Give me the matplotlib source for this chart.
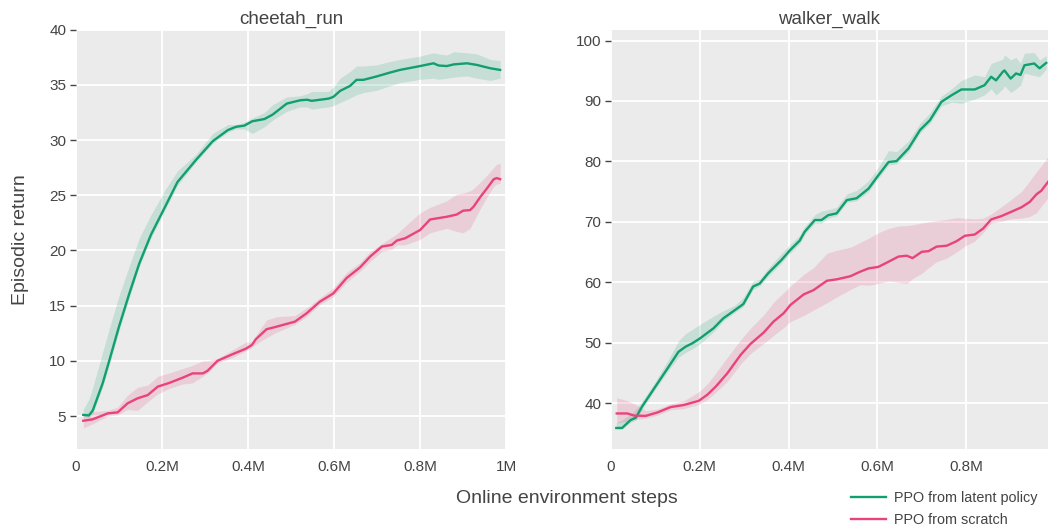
import numpy as np
import matplotlib
matplotlib.use("Agg")
import matplotlib.pyplot as plt
from matplotlib.ticker import FuncFormatter

plt.rcParams["font.family"] = ["Liberation Sans", "DejaVu Sans"]

green = "#119e71"
pink = "#e8437a"
text_col = "#444444"

# ---- cheetah_run ----
ch_lat_x = [0.017, 0.03, 0.039, 0.062, 0.078, 0.10, 0.124, 0.147, 0.174, 0.209, 0.236, 0.279, 0.318,
            0.353, 0.372, 0.391, 0.41, 0.438, 0.457, 0.49, 0.521, 0.537, 0.548, 0.587, 0.598, 0.614,
            0.637, 0.652, 0.668, 0.698, 0.729, 0.753, 0.8, 0.831, 0.843, 0.862, 0.878, 0.909, 0.932,
            0.963, 0.986]
ch_lat_y = [5.1, 5.05, 5.5, 7.96, 10.1, 13.1, 16.1, 18.8, 21.4, 24.1, 26.2, 28.2, 29.9,
            30.9, 31.2, 31.3, 31.7, 31.9, 32.3, 33.3, 33.6, 33.65, 33.55, 33.75, 33.9, 34.45,
            34.9, 35.45, 35.45, 35.75, 36.1, 36.35, 36.7, 36.95, 36.75, 36.7, 36.85, 36.95, 36.8,
            36.5, 36.35]
ch_lat_lo = [4.9, 4.9, 5.2, 7.6, 9.7, 12.7, 15.7, 18.5, 21.1, 23.8, 25.9, 28.0, 29.7,
             30.7, 31.0, 31.0, 30.6, 31.2, 31.8, 32.6, 33.0, 33.0, 32.8, 33.0, 33.1, 33.4,
             33.8, 34.1, 34.3, 34.5, 34.9, 35.2, 35.5, 35.6, 35.5, 35.6, 35.7, 35.8, 35.6,
             35.4, 35.6]
ch_lat_hi = [5.6, 6.5, 7.6, 10.8, 13.0, 15.9, 18.6, 21.1, 23.2, 25.6, 27.2, 28.7, 30.6,
             31.4, 31.4, 31.6, 32.0, 32.5, 33.2, 33.9, 34.0, 34.2, 34.4, 34.4, 34.8, 35.6,
             36.2, 36.7, 36.7, 36.8, 37.1, 37.3, 37.6, 37.9, 37.8, 37.7, 38.0, 37.9, 37.8,
             37.3, 37.2]

ch_scr_x = [0.017, 0.039, 0.074, 0.097, 0.12, 0.143, 0.167, 0.19, 0.217, 0.248, 0.271, 0.295, 0.306,
            0.329, 0.364, 0.395, 0.409, 0.418, 0.443, 0.467, 0.509, 0.536, 0.567, 0.598, 0.629,
            0.66, 0.684, 0.711, 0.734, 0.746, 0.765, 0.8, 0.823, 0.862, 0.885, 0.9, 0.916, 0.924,
            0.94, 0.955, 0.971, 0.978, 0.986]
ch_scr_y = [4.57, 4.7, 5.24, 5.33, 6.15, 6.6, 6.9, 7.66, 8.0, 8.47, 8.86, 8.86, 9.1,
            10.0, 10.6, 11.1, 11.44, 11.95, 12.86, 13.1, 13.55, 14.3, 15.36, 16.1, 17.5,
            18.45, 19.45, 20.35, 20.5, 20.9, 21.1, 21.85, 22.8, 23.05, 23.25, 23.6, 23.65, 23.95,
            24.85, 25.6, 26.45, 26.55, 26.45]
ch_scr_lo = [3.9, 4.3, 5.0, 5.1, 5.6, 5.5, 6.3, 7.0, 7.5, 7.9, 8.0, 8.6, 8.9,
             9.8, 10.3, 10.9, 11.2, 11.5, 12.1, 12.6, 13.3, 14.0, 15.1, 15.8, 17.1,
             18.1, 19.0, 19.9, 20.1, 20.5, 20.5, 21.0, 21.6, 22.0, 21.7, 21.6, 22.0, 22.6,
             23.8, 24.8, 25.8, 26.0, 26.1]
ch_scr_hi = [5.2, 5.4, 5.5, 5.8, 6.9, 7.6, 7.8, 8.6, 8.9, 9.3, 9.6, 10.0, 10.0,
             10.2, 11.0, 11.7, 11.7, 12.3, 13.7, 14.0, 14.1, 14.8, 15.7, 16.6, 18.0,
             18.9, 19.9, 20.6, 21.2, 21.5, 22.2, 23.4, 23.9, 24.5, 25.1, 25.2, 25.4, 25.6,
             26.2, 26.8, 27.5, 27.8, 27.9]

# ---- walker_walk ----
wk_lat_x = [0.012, 0.025, 0.044, 0.056, 0.07, 0.1, 0.13, 0.152, 0.168, 0.183, 0.2, 0.231, 0.253,
            0.279, 0.298, 0.32, 0.335, 0.354, 0.384, 0.403, 0.425, 0.436, 0.459, 0.474, 0.489,
            0.508, 0.531, 0.553, 0.58, 0.602, 0.625, 0.643, 0.67, 0.696, 0.718, 0.744, 0.767,
            0.789, 0.819, 0.841, 0.856, 0.867, 0.882, 0.886, 0.9, 0.912, 0.922, 0.931, 0.953,
            0.965, 0.98]
wk_lat_y = [35.9, 35.9, 37.2, 37.6, 39.45, 42.75, 46.05, 48.5, 49.35, 49.9, 50.7, 52.4, 54.05,
            55.4, 56.4, 59.3, 59.8, 61.5, 63.7, 65.3, 66.9, 68.35, 70.3, 70.3, 71.1,
            71.4, 73.6, 73.9, 75.5, 77.7, 79.9, 80.05, 82.15, 85.2, 86.8, 89.85, 90.95,
            91.9, 91.9, 92.6, 94.0, 93.4, 94.8, 95.05, 93.7, 94.55, 94.3, 95.9, 96.2,
            95.4, 96.3]
wk_lat_lo = [35.7, 35.7, 36.8, 37.2, 39.0, 42.3, 45.5, 47.6, 48.4, 49.0, 49.8, 51.8, 53.6,
             55.0, 56.0, 58.8, 59.4, 61.0, 63.2, 64.8, 66.4, 67.9, 69.8, 69.8, 70.6,
             71.0, 73.2, 73.5, 75.0, 77.2, 79.4, 79.6, 81.6, 84.7, 86.3, 89.2, 89.8,
             89.6, 90.3, 91.0, 92.0, 91.0, 92.0, 92.5, 91.4, 92.0, 92.6, 94.6, 94.2,
             94.0, 95.3]
wk_lat_hi = [36.8, 37.2, 38.2, 39.0, 40.3, 43.6, 47.3, 50.3, 51.5, 52.2, 53.0, 54.4, 55.3,
             56.2, 57.5, 60.2, 60.5, 62.3, 64.8, 66.2, 67.8, 69.2, 71.2, 71.8, 72.0,
             72.4, 74.6, 75.2, 76.8, 79.0, 81.8, 81.6, 83.4, 86.3, 88.0, 90.8, 92.0,
             93.4, 94.3, 94.0, 96.2, 96.5, 96.9, 97.6, 96.8, 97.2, 96.2, 97.9, 98.0,
             96.8, 97.5]

wk_scr_x = [0.013, 0.037, 0.052, 0.078, 0.104, 0.134, 0.164, 0.198, 0.217, 0.236, 0.262, 0.292,
            0.314, 0.344, 0.366, 0.389, 0.404, 0.434, 0.456, 0.486, 0.509, 0.539, 0.561, 0.58,
            0.602, 0.625, 0.647, 0.666, 0.679, 0.7, 0.715, 0.733, 0.756, 0.778, 0.797, 0.819,
            0.838, 0.856, 0.879, 0.901, 0.924, 0.943, 0.958, 0.969, 0.984]
wk_scr_y = [38.3, 38.3, 37.95, 37.9, 38.45, 39.35, 39.7, 40.4, 41.4, 42.75, 44.95, 48.0,
            49.8, 51.7, 53.5, 54.9, 56.25, 58.0, 58.7, 60.25, 60.5, 61.0, 61.75, 62.3,
            62.55, 63.4, 64.25, 64.4, 64.0, 65.05, 65.15, 65.9, 66.05, 66.8, 67.7, 67.9,
            68.9, 70.4, 70.95, 71.65, 72.4, 73.3, 74.55, 75.15, 76.6]
wk_scr_lo = [36.7, 37.0, 37.3, 37.5, 38.0, 38.9, 39.1, 39.8, 40.6, 41.8, 43.6, 46.5,
             48.2, 49.9, 51.2, 52.5, 53.5, 54.5, 55.4, 56.6, 57.6, 58.8, 59.6, 59.5,
             59.8, 60.2, 60.0, 59.8, 60.6, 61.5, 62.4, 63.4, 64.0, 65.0, 66.0, 66.8,
             68.2, 69.8, 70.1, 70.5, 70.6, 70.9, 71.5, 72.6, 74.0]
wk_scr_hi = [40.9, 40.4, 39.9, 38.8, 39.0, 39.9, 40.4, 41.9, 43.2, 45.0, 47.6, 50.5,
             52.4, 54.6, 56.7, 58.3, 59.4, 61.3, 62.4, 64.8, 65.3, 65.8, 66.6, 67.3,
             68.2, 68.9, 69.3, 69.4, 69.5, 69.8, 70.0, 70.2, 70.4, 70.7, 70.6, 70.5,
             70.6, 71.3, 72.5, 73.7, 75.0, 76.8, 78.3, 79.3, 80.8]

panels = [
    ("cheetah_run", (ch_lat_x, ch_lat_y, ch_lat_lo, ch_lat_hi),
     (ch_scr_x, ch_scr_y, ch_scr_lo, ch_scr_hi), (0, 1.0), (2, 40),
     [0, 0.2, 0.4, 0.6, 0.8, 1.0], [5, 10, 15, 20, 25, 30, 35, 40]),
    ("walker_walk", (wk_lat_x, wk_lat_y, wk_lat_lo, wk_lat_hi),
     (wk_scr_x, wk_scr_y, wk_scr_lo, wk_scr_hi), (0, 0.984), (32.4, 101.8),
     [0, 0.2, 0.4, 0.6, 0.8], [40, 50, 60, 70, 80, 90, 100]),
]

fig = plt.figure(figsize=(10.48, 5.29), dpi=100)
ax_rects = [[0.0725, 0.151, 0.4105, 0.793], [0.583, 0.151, 0.417, 0.793]]


def fmt_x(v, pos):
    if abs(v) < 1e-9:
        return "0"
    if abs(v - 1.0) < 1e-9:
        return "1M"
    return f"{v:.1f}M"


for rect, (title, lat, scr, xlim, ylim, xticks, yticks) in zip(ax_rects, panels):
    ax = fig.add_axes(rect)
    ax.set_facecolor("#ebebeb")
    for s in ax.spines.values():
        s.set_visible(False)
    ax.grid(True, color="white", linewidth=1.3)
    ax.set_axisbelow(True)

    for (x, y, lo, hi), c, lab in [(lat, green, "PPO from latent policy"),
                                   (scr, pink, "PPO from scratch")]:
        ax.fill_between(x, lo, hi, color=c, alpha=0.17, linewidth=0)
        ax.plot(x, y, color=c, linewidth=1.7, label=lab)

    ax.set_xlim(*xlim)
    ax.set_ylim(*ylim)
    ax.set_xticks(xticks)
    ax.xaxis.set_major_formatter(FuncFormatter(fmt_x))
    ax.set_yticks(yticks)
    ax.tick_params(axis="x", length=0, pad=8, labelsize=11, labelcolor=text_col)
    ax.tick_params(axis="y", length=4, width=1, color=text_col, pad=3, labelsize=11,
                   labelcolor=text_col)
    ax.set_title(title, fontsize=13.5, color=text_col, pad=4)

fig.text(0.02, 0.547, "Episodic return", rotation=90, ha="center", va="center",
         fontsize=14, color=text_col)
fig.text(0.541, 0.058, "Online environment steps", ha="center", va="center",
         fontsize=14, color=text_col)

handles, labels = fig.axes[1].get_legend_handles_labels()
fig.legend(handles, labels, loc="lower right", bbox_to_anchor=(1.0, -0.016), frameon=False,
           fontsize=10.4, handlelength=2.4, handletextpad=0.6, labelspacing=0.55,
           labelcolor=text_col, borderaxespad=0.3)

fig.savefig("out.png", dpi=100)
